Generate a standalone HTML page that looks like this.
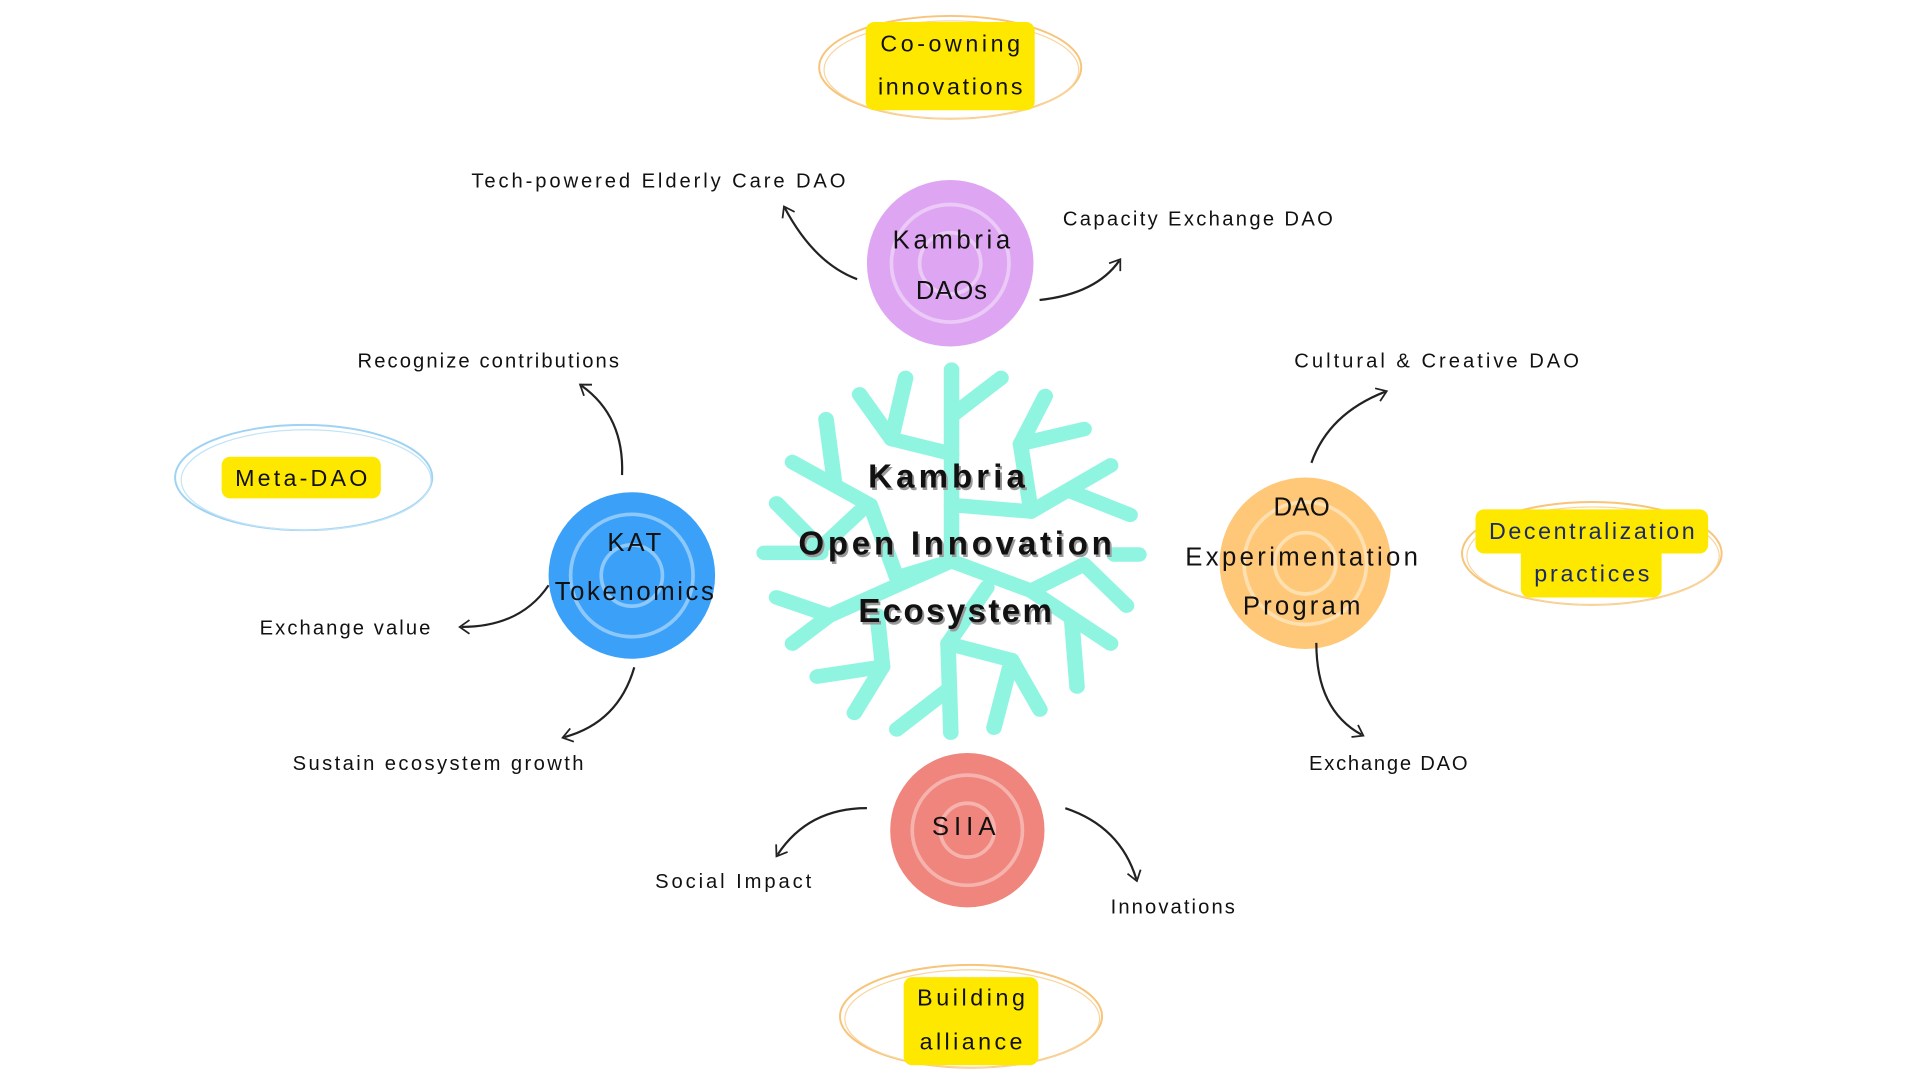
<!DOCTYPE html>
<html><head><meta charset="utf-8"><style>
html,body{margin:0;padding:0;background:#fff;width:1920px;height:1080px;overflow:hidden}
svg{display:block}
text{font-family:"Liberation Sans",sans-serif;fill:#111}
</style></head><body>
<svg width="1920" height="1080" viewBox="0 0 1568 882" preserveAspectRatio="none" xmlns="http://www.w3.org/2000/svg">
<defs>
<marker id="ah" viewBox="0 0 20 20" refX="10" refY="10" markerWidth="16" markerHeight="16" orient="auto" markerUnits="userSpaceOnUse">
<path d="M2,3 L12,10 L2,17" fill="none" stroke="#222" stroke-width="1.8"/>
</marker>
</defs>

<g transform="translate(575,248) scale(0.2887,0.2695)" fill="none" stroke="#8ff5e0" stroke-width="44" stroke-linecap="round" stroke-linejoin="round">
<path d="M700,200 L700,780"/>
<path d="M700,340 L840,225"/>
<path d="M700,455 L530,410 L440,275"/>
<path d="M530,410 L570,225"/>
<path d="M700,610 L925,630 L1150,490"/>
<path d="M925,630 L895,425 L965,280"/>
<path d="M895,425 L1075,380"/>
<path d="M1040,570 L1205,640"/>
<path d="M700,780 L545,830 L470,610 L250,480"/>
<path d="M345,350 L370,550"/>
<path d="M205,605 L330,740 L440,630"/>
<path d="M170,755 L330,755"/>
<path d="M1160,760 L1230,760"/>
<path d="M700,780 L925,870 L1150,1030"/>
<path d="M925,870 L1075,790 L1195,915"/>
<path d="M1040,960 L1055,1160"/>
<path d="M700,780 L355,945 L250,1030"/>
<path d="M205,890 L355,945"/>
<path d="M490,945 L505,1100 L320,1130"/>
<path d="M505,1100 L425,1240"/>
<path d="M800,860 L690,1030 L698,1300"/>
<path d="M690,1030 L870,1080 L950,1230"/>
<path d="M870,1080 L820,1285"/>
<path d="M690,1170 L545,1290"/>
</g>

<g fill="none" stroke-width="1.6">
<ellipse cx="776" cy="55" rx="107" ry="42" stroke="#f7c47a"/>
<ellipse cx="777" cy="57" rx="104" ry="40" stroke="#f9d59f" stroke-width="1"/>
<ellipse cx="248" cy="390" rx="105" ry="43" stroke="#9fd3f3"/>
<ellipse cx="250" cy="392" rx="102" ry="41" stroke="#c3e4f7" stroke-width="1"/>
<ellipse cx="1300" cy="452" rx="106" ry="42" stroke="#f7c47a"/>
<ellipse cx="1301" cy="454" rx="103" ry="40" stroke="#f9d59f" stroke-width="1"/>
<ellipse cx="793" cy="830" rx="107" ry="42" stroke="#f7c47a"/>
<ellipse cx="794" cy="832" rx="104" ry="40" stroke="#f9d59f" stroke-width="1"/>
</g>

<g fill="#ffe800">
<rect x="707" y="18" width="138" height="72" rx="7"/>
<rect x="181" y="373" width="130" height="34" rx="7"/>
<rect x="1205" y="416" width="190" height="36" rx="7"/>
<rect x="1242" y="440" width="115" height="48" rx="7"/>
<rect x="738" y="798" width="110" height="72" rx="7"/>
</g>

<g>
<circle cx="776" cy="215" r="68" fill="#dea6f2"/>
<circle cx="776" cy="215" r="48" fill="none" stroke="#eccaf7" stroke-width="3"/>
<circle cx="776" cy="215" r="25" fill="none" stroke="#eccaf7" stroke-width="3"/>
<circle cx="516" cy="470" r="68" fill="#3aa0f8"/>
<circle cx="516" cy="470" r="50" fill="none" stroke="#8cc8fb" stroke-width="3"/>
<circle cx="516" cy="470" r="25" fill="none" stroke="#8cc8fb" stroke-width="3"/>
<circle cx="1066" cy="460" r="70" fill="#ffc878"/>
<circle cx="1066" cy="460" r="50" fill="none" stroke="#ffe0b0" stroke-width="3"/>
<circle cx="1066" cy="460" r="25" fill="none" stroke="#ffe0b0" stroke-width="3"/>
<circle cx="790" cy="678" r="63" fill="#ef857c"/>
<circle cx="790" cy="678" r="45" fill="none" stroke="#f6b3ad" stroke-width="3"/>
<circle cx="790" cy="678" r="22" fill="none" stroke="#f6b3ad" stroke-width="3"/>
</g>

<g fill="none" stroke="#222" stroke-width="1.8" marker-end="url(#ah)">
<path d="M700,228 Q665,215 641,170"/>
<path d="M849,245 Q895,240 914,213"/>
<path d="M508,388 Q510,340 475,315"/>
<path d="M448,478 Q425,512 377,512"/>
<path d="M518,545 Q505,590 461,602"/>
<path d="M1071,378 Q1085,338 1131,320"/>
<path d="M1075,525 Q1075,580 1112,600"/>
<path d="M708,660 Q660,660 635,698"/>
<path d="M870,660 Q915,675 928,718"/>
</g>

<g font-size="16.5" letter-spacing="1.5">
<text x="385" y="153" textLength="307" lengthAdjust="spacing">Tech-powered Elderly Care DAO</text>
<text x="868" y="184" textLength="222" lengthAdjust="spacing">Capacity Exchange DAO</text>
<text x="292" y="300" textLength="215" lengthAdjust="spacing">Recognize contributions</text>
<text x="212" y="518" textLength="141" lengthAdjust="spacing">Exchange value</text>
<text x="239" y="629" textLength="239" lengthAdjust="spacing">Sustain ecosystem growth</text>
<text x="1057" y="300" textLength="234" lengthAdjust="spacing">Cultural &amp; Creative DAO</text>
<text x="1069" y="629" textLength="131" lengthAdjust="spacing">Exchange DAO</text>
<text x="535" y="725" textLength="129" lengthAdjust="spacing">Social Impact</text>
<text x="907" y="746" textLength="103" lengthAdjust="spacing">Innovations</text>
</g>

<g font-size="19" text-anchor="middle">
<text x="776" y="42" textLength="114" lengthAdjust="spacing">Co-owning</text>
<text x="776" y="77" textLength="118" lengthAdjust="spacing">innovations</text>
<text x="246" y="397" textLength="108" lengthAdjust="spacing">Meta-DAO</text>
<text x="1300" y="440" textLength="168" lengthAdjust="spacing" style="fill:#1b2a66">Decentralization</text>
<text x="1300" y="475" textLength="94" lengthAdjust="spacing" style="fill:#1b2a66">practices</text>
<text x="793" y="821" textLength="88" lengthAdjust="spacing">Building</text>
<text x="793" y="857" textLength="84" lengthAdjust="spacing">alliance</text>
</g>

<g font-size="21" text-anchor="middle">
<text x="777" y="203" textLength="96" lengthAdjust="spacing">Kambria</text>
<text x="777" y="244" textLength="58" lengthAdjust="spacing">DAOs</text>
<text x="518" y="450" textLength="44" lengthAdjust="spacing">KAT</text>
<text x="518" y="490" textLength="130" lengthAdjust="spacing">Tokenomics</text>
<text x="1063" y="421" textLength="46" lengthAdjust="spacing">DAO</text>
<text x="1063" y="462" textLength="190" lengthAdjust="spacing">Experimentation</text>
<text x="1063" y="502" textLength="96" lengthAdjust="spacing">Program</text>
<text x="787" y="682" textLength="52" lengthAdjust="spacing">SIIA</text>
</g>

<g font-size="27" font-weight="bold" text-anchor="middle">
<g transform="translate(1.5,2)">
<text x="773" y="398" textLength="128" lengthAdjust="spacing" style="fill:#999">Kambria</text>
<text x="780" y="453" textLength="256" lengthAdjust="spacing" style="fill:#999">Open Innovation</text>
<text x="780" y="508" textLength="158" lengthAdjust="spacing" style="fill:#999">Ecosystem</text>
</g>
<text x="773" y="398" textLength="128" lengthAdjust="spacing">Kambria</text>
<text x="780" y="453" textLength="256" lengthAdjust="spacing">Open Innovation</text>
<text x="780" y="508" textLength="158" lengthAdjust="spacing">Ecosystem</text>
</g>
</svg>
</body></html>
